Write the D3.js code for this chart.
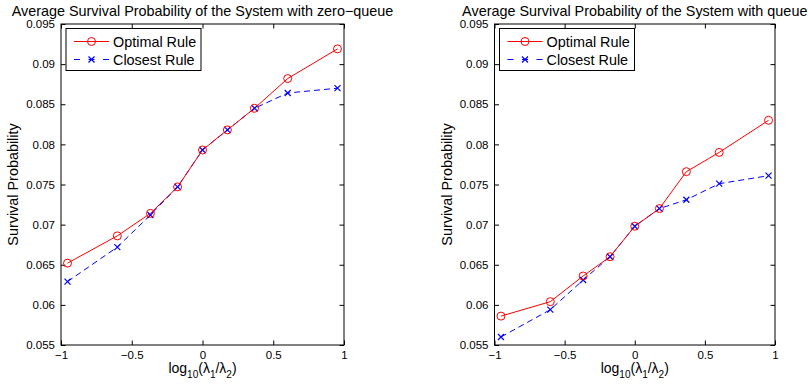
<!DOCTYPE html>
<html><head><meta charset="utf-8">
<script src="https://cdn.jsdelivr.net/npm/d3@7"></script>
<style>body{margin:0;background:#fff}svg{display:block;font-family:"Liberation Sans",Arial,sans-serif}</style>
</head><body><svg id="c" width="808" height="388"></svg>
<script>
const xValues = [-0.954, -0.602, -0.368, -0.176, 0, 0.176, 0.368, 0.602, 0.954];
const zeroQueueOptimal = [0.0652, 0.0686, 0.0714, 0.0747, 0.0793, 0.0818, 0.0845, 0.0882, 0.0919];
const zeroQueueClosest = [0.0629, 0.0672, 0.0712, 0.0747, 0.0793, 0.0818, 0.0845, 0.0864, 0.0870];
const queueOptimal = [0.0586, 0.0604, 0.0636, 0.0660, 0.0698, 0.0720, 0.0766, 0.0790, 0.0830];
const queueClosest = [0.0560, 0.0594, 0.0631, 0.0660, 0.0698, 0.0720, 0.0731, 0.0751, 0.0761];
const xTicks = [-1, -0.5, 0, 0.5, 1];
const yTicks = [0.055, 0.06, 0.065, 0.07, 0.075, 0.08, 0.085, 0.09, 0.095];
const titles = ["Average Survival Probability of the System with zero\u2212queue", "Average Survival Probability of the System with queue"];
const legendLabels = ["Optimal Rule", "Closest Rule"];

const svg = d3.select("#c");
const fmt = v => String(v).replace("-", "\u2212");
const panels = [
  {x0: 61, x1: 344, opt: zeroQueueOptimal, clo: zeroQueueClosest, title: titles[0]},
  {x0: 494.5, x1: 775, opt: queueOptimal, clo: queueClosest, title: titles[1]}
];
const yTop = 24, yBot = 345;
const FS = 14.4;

panels.forEach(p => {
  const g = svg.append("g");
  const x = d3.scaleLinear().domain([-1, 1]).range([p.x0, p.x1]);
  const y = d3.scaleLinear().domain([0.055, 0.095]).range([yBot, yTop]);
  const tl = 4.5;
  const ax = g.append("g").attr("transform", `translate(0,${yBot})`)
    .call(d3.axisBottom(x).tickValues(xTicks).tickSize(-tl).tickPadding(6).tickFormat(fmt));
  const axT = g.append("g").attr("transform", `translate(0,${yTop})`)
    .call(d3.axisTop(x).tickValues(xTicks).tickSize(-tl).tickFormat(""));
  const ay = g.append("g").attr("transform", `translate(${p.x0},0)`)
    .call(d3.axisLeft(y).tickValues(yTicks).tickSize(-tl).tickPadding(6).tickFormat(d => d3.format("")(+d.toFixed(3))));
  const ayR = g.append("g").attr("transform", `translate(${p.x1},0)`)
    .call(d3.axisRight(y).tickValues(yTicks).tickSize(-tl).tickFormat(""));
  [ax, axT, ay, ayR].forEach(a => {
    a.select(".domain").remove();
    a.selectAll("line").attr("stroke", "#000").attr("stroke-width", 1);
    a.selectAll("text").attr("fill", "#000").attr("font-size", 11.5).attr("font-family", "Liberation Sans, Arial, sans-serif");
  });
  g.append("rect").attr("x", p.x0).attr("y", yTop).attr("width", p.x1 - p.x0).attr("height", yBot - yTop)
    .attr("fill", "none").attr("stroke", "#000").attr("stroke-width", 1);

  const line = d3.line().x((d, i) => x(xValues[i])).y(d => y(d));
  g.append("path").datum(p.clo).attr("d", line).attr("fill", "none").attr("stroke", "#0000ff")
    .attr("stroke-width", 1).attr("stroke-dasharray", "6,4");
  g.append("path").datum(p.opt).attr("d", line).attr("fill", "none").attr("stroke", "#ff0000").attr("stroke-width", 1);
  const s = 3;
  p.clo.forEach((v, i) => {
    const cx = x(xValues[i]), cy = y(v);
    g.append("path").attr("d", `M${cx - s},${cy - s}L${cx + s},${cy + s}M${cx - s},${cy + s}L${cx + s},${cy - s}`)
      .attr("stroke", "#0000ff").attr("stroke-width", 1.2);
  });
  p.opt.forEach((v, i) => {
    g.append("circle").attr("cx", x(xValues[i])).attr("cy", y(v)).attr("r", 4)
      .attr("fill", "none").attr("stroke", "#ff0000").attr("stroke-width", 1);
  });

  g.append("text").attr("x", (p.x0 + p.x1) / 2).attr("y", 15.5).attr("text-anchor", "middle")
    .attr("font-size", FS).text(p.title);
  g.append("text").attr("transform", `translate(${p.x0 - 43},${(yTop + yBot) / 2}) rotate(-90)`)
    .attr("text-anchor", "middle").attr("font-size", FS).text("Survival Probability");
  const xl = g.append("text").attr("x", (p.x0 + p.x1) / 2).attr("y", 373).attr("text-anchor", "middle").attr("font-size", 14);
  xl.append("tspan").text("log");
  xl.append("tspan").attr("dy", 5).attr("font-size", 10).text("10");
  xl.append("tspan").attr("dy", -5).text("(\u03bb");
  xl.append("tspan").attr("dy", 5).attr("font-size", 10).text("1");
  xl.append("tspan").attr("dy", -5).text("/\u03bb");
  xl.append("tspan").attr("dy", 5).attr("font-size", 10).text("2");
  xl.append("tspan").attr("dy", -5).text(")");

  const lx = p.x0 + 5, ly = 28.5, lw = 135, lh = 42;
  const lg = g.append("g");
  lg.append("rect").attr("x", lx).attr("y", ly).attr("width", lw).attr("height", lh)
    .attr("fill", "#fff").attr("stroke", "#000").attr("stroke-width", 1);
  const r1 = ly + 13, r2 = ly + 31;
  lg.append("line").attr("x1", lx + 8).attr("x2", lx + 43).attr("y1", r1).attr("y2", r1).attr("stroke", "#ff0000");
  lg.append("circle").attr("cx", lx + 25.5).attr("cy", r1).attr("r", 4).attr("fill", "none").attr("stroke", "#ff0000");
  lg.append("line").attr("x1", lx + 8).attr("x2", lx + 43).attr("y1", r2).attr("y2", r2).attr("stroke", "#0000ff").attr("stroke-dasharray", "6,8.5");
  const cx2 = lx + 25.5;
  lg.append("path").attr("d", `M${cx2 - s},${r2 - s}L${cx2 + s},${r2 + s}M${cx2 - s},${r2 + s}L${cx2 + s},${r2 - s}`)
    .attr("stroke", "#0000ff").attr("stroke-width", 1.2);
  lg.append("text").attr("x", lx + 47).attr("y", r1 + 5).attr("font-size", FS).text(legendLabels[0]);
  lg.append("text").attr("x", lx + 47).attr("y", r2 + 5).attr("font-size", FS).text(legendLabels[1]);
});
</script></body></html>
